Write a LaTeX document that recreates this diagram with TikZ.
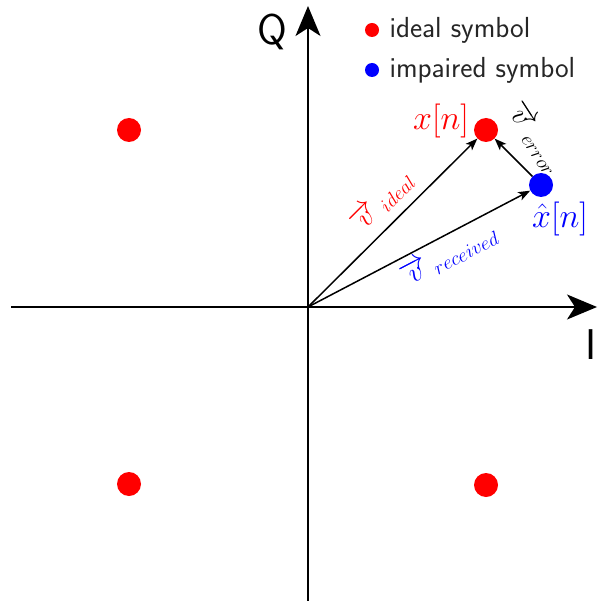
\documentclass[tikz,border=0pt]{standalone}
\usepackage{fix-cm}
\usetikzlibrary{arrows.meta}
\begin{document}
\begin{tikzpicture}[x=1pt,y=-1pt,
  axis/.style={line width=1.8pt,-{Stealth[length=30pt,width=25pt,inset=8pt]}},
  vec/.style={line width=1.5pt,-{Stealth[length=12pt,width=9pt,inset=3pt]}},
  reddot/.style={circle,fill=red,inner sep=0pt,minimum size=24pt},
  bluedot/.style={circle,fill=blue,inner sep=0pt,minimum size=24pt},
  legdot/.style={circle,inner sep=0pt,minimum size=14pt},
  legtext/.style={anchor=west,font=\sffamily\fontsize{29}{31}\selectfont,text=black!85},
  axlabel/.style={font=\sffamily\fontsize{43}{43}\selectfont},
  ptlabel/.style={font=\fontsize{34}{36}\selectfont},
  vlabel/.style={font=\fontsize{28}{30}\selectfont}]
\useasboundingbox (0,0) rectangle (598,601);
\coordinate (O) at (308,307);
\coordinate (xl) at (11,307);
\coordinate (xr) at (597,307);
\coordinate (yb) at (308,601);
\coordinate (yt) at (308,6);
\draw[axis] (xl) -- (xr);
\draw[axis] (yb) -- (yt);
\node[axlabel] (Q) at (272,32) {Q};
\node[axlabel] (I) at (591,345) {I};
\node[reddot] (p1) at (129,130) {};
\node[reddot] (p2) at (486,130) {};
\node[reddot] (p3) at (129,484) {};
\node[reddot] (p4) at (486,485) {};
\node[bluedot] (b) at (541,185) {};
\draw[vec] (O) -- (p2);
\draw[vec] (O) -- (b);
\draw[vec] (b) -- (p2);
\node[ptlabel,text=red] (xn) at (441,121) {$x[n]$};
\node[ptlabel,text=blue] (xh) at (560,219) {$\hat{x}[n]$};
\node[vlabel,text=red,rotate=45] (li) at (382,201) {$\overrightarrow{v}\,_{ideal}$};
\node[vlabel,text=blue,rotate=27.6] (lr) at (449,255) {$\overrightarrow{v}\,_{received}$};
\node[vlabel,text=black,rotate=-57] (le) at (535,138) {$\overrightarrow{v}\,_{error}$};
\node[legdot,fill=red] (l1) at (372,30) {};
\node[legdot,fill=blue] (l2) at (372,70) {};
\node[legtext] (t1) at (386,30) {ideal symbol};
\node[legtext] (t2) at (386,70) {impaired symbol};
\end{tikzpicture}
\end{document}
